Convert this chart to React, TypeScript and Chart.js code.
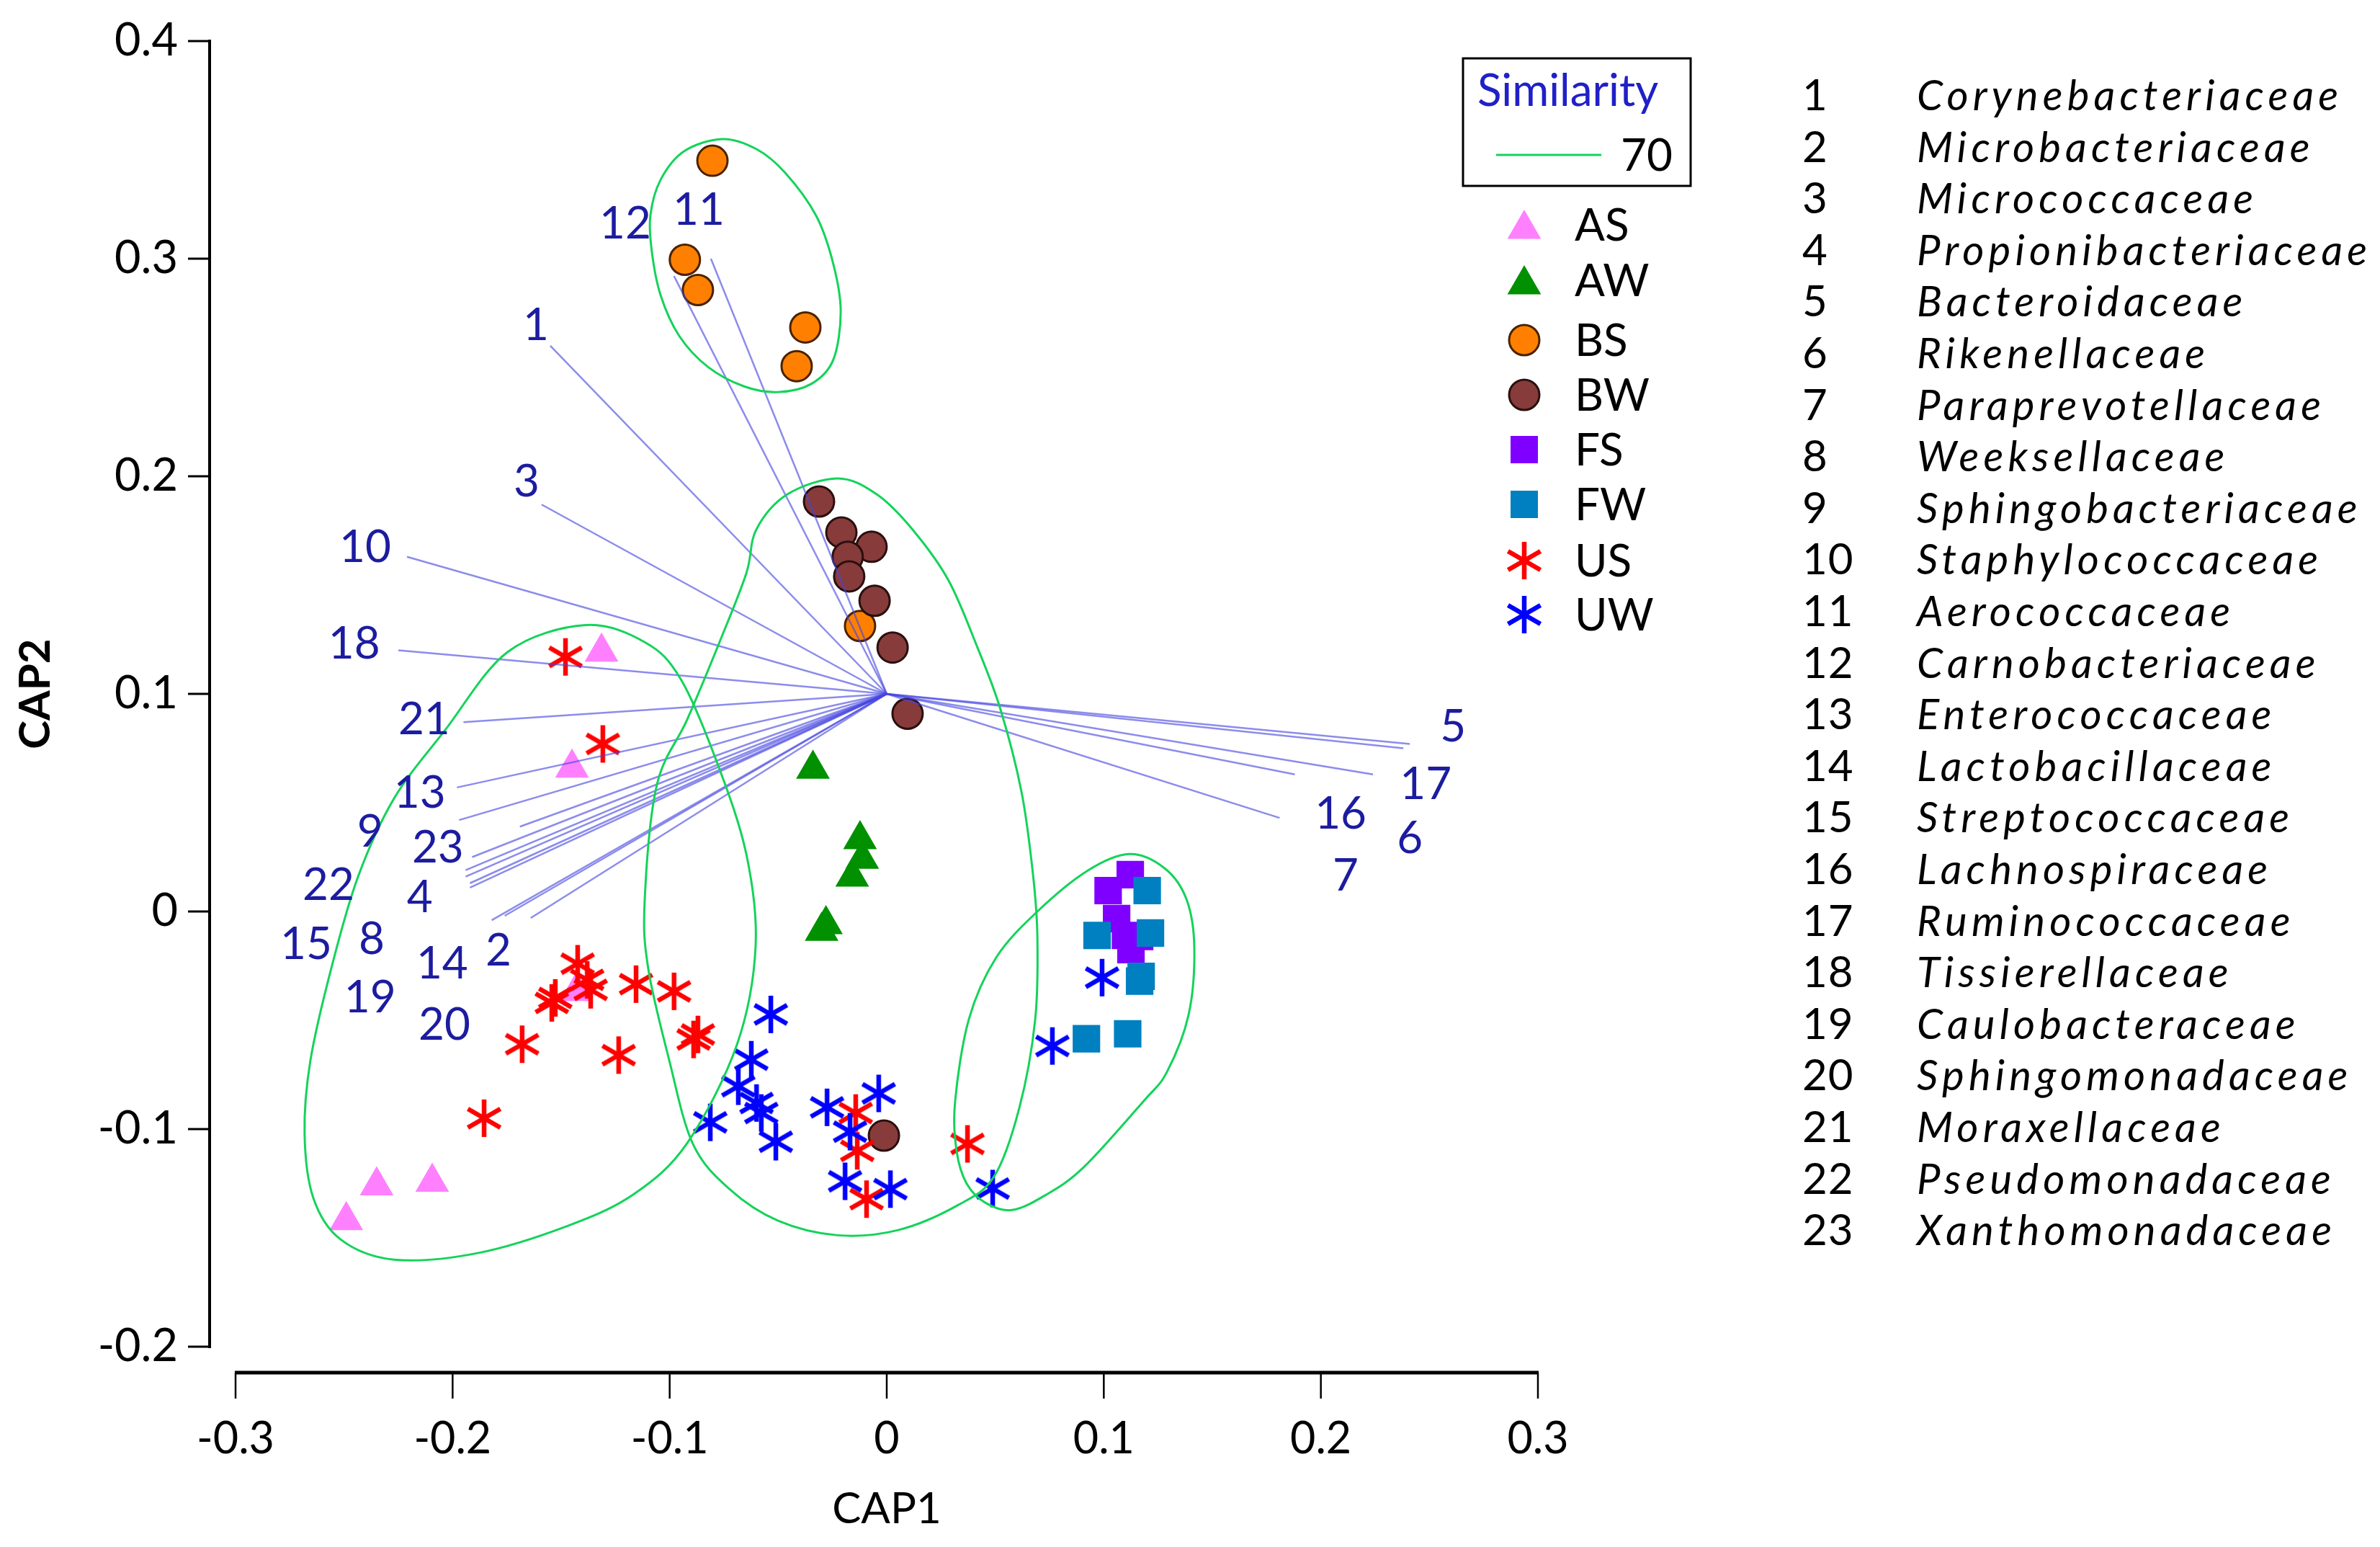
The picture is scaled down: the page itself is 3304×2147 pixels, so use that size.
import React, { useEffect, useRef } from 'react';
import { Chart, registerables } from 'chart.js';

Chart.register(...registerables);

// ---------------- axis ticks ----------------
const xTickValues = [-0.3, -0.2, -0.1, 0, 0.1, 0.2, 0.3];
const xTickLabels = ['-0.3', '-0.2', '-0.1', '0', '0.1', '0.2', '0.3'];
const yTickValues = [-0.2, -0.1, 0, 0.1, 0.2, 0.3, 0.4];
const yTickLabels = ['-0.2', '-0.1', '0', '0.1', '0.2', '0.3', '0.4'];

// ---------------- sample groups (CAP1, CAP2) ----------------
const groupNames = ['AS', 'AW', 'BS', 'BW', 'FS', 'FW', 'US', 'UW'];

const asX = [-0.1314, -0.145, -0.143, -0.2094, -0.235, -0.249];
const asY = [0.1193, 0.066, -0.0367, -0.1243, -0.126, -0.142];

const awX = [-0.034, -0.0123, -0.0113, -0.0159, -0.028, -0.030];
const awY = [0.0655, 0.0331, 0.0241, 0.0159, -0.006, -0.009];

const bsX = [-0.0803, -0.093, -0.087, -0.0375, -0.0415, -0.0123];
const bsY = [0.345, 0.2995, 0.2856, 0.2684, 0.2506, 0.1312];

const bwX = [-0.0312, -0.0209, -0.007, -0.018, -0.0173, -0.0056, 0.0027, 0.0096, -0.0013];
const bwY = [0.1884, 0.1742, 0.1676, 0.163, 0.154, 0.1428, 0.1213, 0.0909, -0.103];

const fsX = [0.1122, 0.102, 0.1059, 0.110, 0.1125, 0.1165];
const fsY = [0.0169, 0.0096, -0.0033, -0.011, -0.0175, -0.0115];

const fwX = [0.12, 0.1215, 0.0969, 0.1172, 0.1165, 0.092, 0.111];
const fwY = [0.0096, -0.0099, -0.011, -0.0298, -0.032, -0.0585, -0.0562];

const usX = [-0.148, -0.1308, -0.1424, -0.138, -0.1364, -0.1527, -0.1543, -0.1155, -0.098, -0.087, -0.089, -0.168, -0.1235, -0.1855, -0.0143, -0.0136, -0.0093, 0.0372];
const usY = [0.117, 0.077, -0.024, -0.0314, -0.036, -0.0397, -0.042, -0.0334, -0.0367, -0.0565, -0.0588, -0.061, -0.066, -0.095, -0.0926, -0.110, -0.1322, -0.1068];

const uwX = [-0.0534, -0.0624, -0.0684, -0.060, -0.0578, -0.0511, -0.0813, -0.0275, -0.0037, -0.0169, -0.0192, 0.0017, 0.0992, 0.0763, 0.0488];
const uwY = [-0.0473, -0.0681, -0.0803, -0.088, -0.0926, -0.1058, -0.0969, -0.090, -0.0836, -0.1012, -0.124, -0.1276, -0.0304, -0.0618, -0.1273];

// ---------------- family vectors ----------------
const familyNames = [
  'Corynebacteriaceae', 'Microbacteriaceae', 'Micrococcaceae', 'Propionibacteriaceae',
  'Bacteroidaceae', 'Rikenellaceae', 'Paraprevotellaceae', 'Weeksellaceae',
  'Sphingobacteriaceae', 'Staphylococcaceae', 'Aerococcaceae', 'Carnobacteriaceae',
  'Enterococcaceae', 'Lactobacillaceae', 'Streptococcaceae', 'Lachnospiraceae',
  'Ruminococcaceae', 'Tissierellaceae', 'Caulobacteraceae', 'Sphingomonadaceae',
  'Moraxellaceae', 'Pseudomonadaceae', 'Xanthomonadaceae',
];
const vectorOriginX = 0;
const vectorOriginY = 0.1;
const vectorTipX = [-0.155, -0.164, -0.159, -0.192, 0.241, 0.238, 0.181, -0.192, -0.197, -0.221, -0.081, -0.098, -0.198, -0.182, -0.194, 0.188, 0.224, -0.225, -0.169, -0.176, -0.195, -0.194, -0.191];
const vectorTipY = [0.260, -0.003, 0.187, 0.013, 0.077, 0.075, 0.043, 0.011, 0.042, 0.163, 0.300, 0.292, 0.057, -0.004, 0.016, 0.063, 0.063, 0.120, 0.039, -0.002, 0.087, 0.019, 0.025];
const vectorLabelX = [-0.1616, -0.1789, -0.1659, -0.2151, 0.2609, 0.241, 0.2114, -0.2373, -0.238, -0.2403, -0.0866, -0.1205, -0.2151, -0.2048, -0.2675, 0.2091, 0.2483, -0.2453, -0.238, -0.2038, -0.2131, -0.2572, -0.2068];
const vectorLabelY = [0.270, -0.0175, 0.198, 0.0069, 0.0853, 0.034, 0.0169, -0.0122, 0.037, 0.168, 0.323, 0.3164, 0.0549, -0.0235, -0.0145, 0.0453, 0.0588, 0.1236, -0.039, -0.0516, 0.0886, 0.0126, 0.0298];

// ---------------- similarity 70 contours ----------------
const contourTopX = [-0.0757, -0.0933, -0.1042, -0.1089, -0.1082, -0.1042, -0.0956, -0.0823, -0.0657, -0.0501, -0.0345, -0.0246, -0.0212, -0.0246, -0.0325, -0.0468, -0.0601];
const contourTopY = [0.3550, 0.3494, 0.3362, 0.3197, 0.3031, 0.2833, 0.2645, 0.2502, 0.2413, 0.2387, 0.2426, 0.2536, 0.2757, 0.2975, 0.3197, 0.3395, 0.3504];

const contourMidX = [-0.0226, -0.0046, 0.0119, 0.0285, 0.0418, 0.0524, 0.0621, 0.0674, 0.0694, 0.0684, 0.0611, 0.0495, 0.0329, 0.0053, -0.0226, -0.0501, -0.0724, -0.0893, -0.1002, -0.1099, -0.1115, -0.1059, -0.0919, -0.0767, -0.0647, -0.0601, -0.0458];
const contourMidY = [0.1990, 0.1917, 0.1755, 0.1521, 0.1213, 0.0929, 0.0549, 0.0169, -0.0116, -0.0496, -0.0902, -0.1217, -0.1349, -0.1464, -0.1488, -0.1421, -0.1276, -0.1068, -0.0684, -0.0261, 0.0053, 0.0582, 0.0883, 0.1246, 0.1554, 0.1755, 0.1917];

const contourLeftX = [-0.1387, -0.1112, -0.0949, -0.0783, -0.0647, -0.0604, -0.0690, -0.0919, -0.1165, -0.1470, -0.1885, -0.2270, -0.2516, -0.2642, -0.2682, -0.2655, -0.2559, -0.2436, -0.2270, -0.2035, -0.1746];
const contourLeftY = [0.1316, 0.1236, 0.1068, 0.0688, 0.0264, -0.0159, -0.0612, -0.1064, -0.1299, -0.1445, -0.1570, -0.1600, -0.1507, -0.1316, -0.1021, -0.0684, -0.0261, 0.0159, 0.0519, 0.0833, 0.1193];

const contourRightX = [0.1118, 0.1281, 0.1381, 0.1417, 0.1391, 0.1291, 0.1182, 0.0906, 0.0727, 0.0577, 0.0455, 0.0368, 0.0322, 0.0315, 0.0378, 0.0504, 0.0694, 0.0926];
const contourRightY = [0.0264, 0.0198, 0.0056, -0.0165, -0.0473, -0.0737, -0.0873, -0.1177, -0.1306, -0.1372, -0.1339, -0.1250, -0.1101, -0.0873, -0.0496, -0.0212, 0.0000, 0.0188];

const similarityLevel = '70';

// ---------------- styles ----------------
const FONT = 'Lato, "Open Sans", sans-serif';
const CONTOUR_COLOR = '#14d35a';
const VECTOR_COLOR = 'rgba(70, 70, 225, 0.62)';
const LABEL_COLOR = '#1c1ca0';
const groupColors = ['#ff80ff', '#009000', '#ff8000', '#873b3b', '#8000ff', '#0080c0', '#ff0000', '#0000ff'];
const groupShapes = ['triangle', 'triangle', 'circle', 'circle', 'rect', 'rect', 'asterisk', 'asterisk'];

function makeAsterisk(color: string): HTMLCanvasElement {
  const c = document.createElement('canvas');
  c.width = 60;
  c.height = 60;
  const g = c.getContext('2d')!;
  g.strokeStyle = color;
  g.lineWidth = 6.5;
  const arm = 26;
  [90, 30, 150].forEach((deg) => {
    const r = (deg * Math.PI) / 180;
    g.beginPath();
    g.moveTo(30 - Math.cos(r) * arm, 30 + Math.sin(r) * arm);
    g.lineTo(30 + Math.cos(r) * arm, 30 - Math.sin(r) * arm);
    g.stroke();
  });
  return c;
}

function drawClosedSpline(ctx: CanvasRenderingContext2D, pts: number[][]) {
  const n = pts.length;
  ctx.beginPath();
  ctx.moveTo(pts[0][0], pts[0][1]);
  for (let i = 0; i < n; i++) {
    const p0 = pts[(i - 1 + n) % n];
    const p1 = pts[i];
    const p2 = pts[(i + 1) % n];
    const p3 = pts[(i + 2) % n];
    ctx.bezierCurveTo(
      p1[0] + (p2[0] - p0[0]) / 6, p1[1] + (p2[1] - p0[1]) / 6,
      p2[0] - (p3[0] - p1[0]) / 6, p2[1] - (p3[1] - p1[1]) / 6,
      p2[0], p2[1],
    );
  }
  ctx.closePath();
  ctx.stroke();
}

function drawMarker(ctx: CanvasRenderingContext2D, shape: string, color: string, cx: number, cy: number, img?: HTMLCanvasElement) {
  ctx.save();
  ctx.fillStyle = color;
  if (shape === 'triangle') {
    const r = 27;
    ctx.beginPath();
    ctx.moveTo(cx, cy - r);
    ctx.lineTo(cx + r * Math.sin((2 * Math.PI) / 3), cy + r / 2);
    ctx.lineTo(cx - r * Math.sin((2 * Math.PI) / 3), cy + r / 2);
    ctx.closePath();
    ctx.fill();
  } else if (shape === 'circle') {
    ctx.beginPath();
    ctx.arc(cx, cy, 21, 0, Math.PI * 2);
    ctx.fill();
    ctx.lineWidth = 3;
    ctx.strokeStyle = color === '#ff8000' ? '#4a2200' : '#2a0f0f';
    ctx.stroke();
  } else if (shape === 'rect') {
    ctx.fillRect(cx - 19, cy - 19, 38, 38);
  } else if (img) {
    ctx.drawImage(img, cx - img.width / 2, cy - img.height / 2);
  }
  ctx.restore();
}

export default function App() {
  const ref = useRef<HTMLCanvasElement>(null);

  useEffect(() => {
    document.body.style.margin = '0';
    let chart: Chart | null = null;
    let cancelled = false;

    const build = () => {
      if (cancelled || !ref.current) return;
      const usStar = makeAsterisk('#ff0000');
      const uwStar = makeAsterisk('#0000ff');
      const stars: Record<string, HTMLCanvasElement> = { US: usStar, UW: uwStar };

      const pts = (xs: number[], ys: number[]) => xs.map((v, i) => ({ x: v, y: ys[i] }));
      const groupData = [pts(asX, asY), pts(awX, awY), pts(bsX, bsY), pts(bwX, bwY), pts(fsX, fsY), pts(fwX, fwY), pts(usX, usY), pts(uwX, uwY)];

      const groupDatasets = groupNames.map((name, gi) => {
        const shape = groupShapes[gi];
        const isCircle = shape === 'circle';
        return {
          label: name,
          data: groupData[gi],
          showLine: false,
          pointStyle: shape === 'asterisk' ? stars[name] : shape,
          pointRadius: shape === 'circle' ? 21 : 27,
          pointBackgroundColor: groupColors[gi],
          pointBorderColor: isCircle ? (name === 'BS' ? '#4a2200' : '#2a0f0f') : groupColors[gi],
          pointBorderWidth: isCircle ? 3 : 0,
          order: 8 - gi,
        };
      });

      const vectorDatasets = familyNames.map((fam, i) => ({
        label: fam,
        data: [{ x: vectorOriginX, y: vectorOriginY }, { x: vectorTipX[i], y: vectorTipY[i] }],
        showLine: true,
        borderColor: VECTOR_COLOR,
        borderWidth: 2.5,
        pointRadius: 0,
        order: 0,
      }));

      const overlay = {
        id: 'capOverlay',
        afterDatasetsDraw(c: any) {
          const { ctx, scales } = c;
          const x = scales.x;
          const y = scales.y;
          ctx.save();
          // similarity contours
          ctx.strokeStyle = CONTOUR_COLOR;
          ctx.lineWidth = 3;
          [
            [contourTopX, contourTopY],
            [contourMidX, contourMidY],
            [contourLeftX, contourLeftY],
            [contourRightX, contourRightY],
          ].forEach(([cx, cy]) => {
            drawClosedSpline(ctx, cx.map((v, i) => [x.getPixelForValue(v), y.getPixelForValue(cy[i])]));
          });
          // vector labels
          ctx.fillStyle = LABEL_COLOR;
          ctx.font = `62px ${FONT}`;
          ctx.textAlign = 'center';
          ctx.textBaseline = 'alphabetic';
          vectorLabelX.forEach((lx, i) => {
            ctx.fillText(String(i + 1), x.getPixelForValue(lx), y.getPixelForValue(vectorLabelY[i]) + 22);
          });
          ctx.restore();
        },
        afterDraw(c: any) {
          const { ctx, chartArea, scales } = c;
          const x = scales.x;
          const y = scales.y;
          ctx.save();
          ctx.strokeStyle = '#000';
          // y axis (detached)
          const axX = chartArea.left - 36;
          const yTop = y.getPixelForValue(yTickValues[yTickValues.length - 1]);
          const yBot = y.getPixelForValue(yTickValues[0]);
          ctx.lineWidth = 4;
          ctx.beginPath();
          ctx.moveTo(axX, yTop - 2);
          ctx.lineTo(axX, yBot + 2);
          ctx.stroke();
          ctx.lineWidth = 3;
          yTickValues.forEach((v) => {
            const py = y.getPixelForValue(v);
            ctx.beginPath();
            ctx.moveTo(axX - 30, py);
            ctx.lineTo(axX, py);
            ctx.stroke();
          });
          // x axis (detached)
          const axY = chartArea.bottom + 36;
          const xL = x.getPixelForValue(xTickValues[0]);
          const xR = x.getPixelForValue(xTickValues[xTickValues.length - 1]);
          ctx.lineWidth = 5;
          ctx.beginPath();
          ctx.moveTo(xL - 1, axY);
          ctx.lineTo(xR + 1, axY);
          ctx.stroke();
          ctx.lineWidth = 2.5;
          xTickValues.forEach((v) => {
            const px = x.getPixelForValue(v);
            ctx.beginPath();
            ctx.moveTo(px, axY);
            ctx.lineTo(px, axY + 36);
            ctx.stroke();
          });

          // similarity legend box
          ctx.lineWidth = 3;
          ctx.strokeRect(2031, 81, 316, 177);
          ctx.font = `62px ${FONT}`;
          ctx.textAlign = 'left';
          ctx.textBaseline = 'alphabetic';
          ctx.fillStyle = '#2020c8';
          ctx.fillText('Similarity', 2051, 147);
          ctx.strokeStyle = CONTOUR_COLOR;
          ctx.lineWidth = 3;
          ctx.beginPath();
          ctx.moveTo(2077, 215);
          ctx.lineTo(2223, 215);
          ctx.stroke();
          ctx.fillStyle = '#000';
          ctx.fillText(similarityLevel, 2250, 237);

          // group legend
          const legendY = [312, 389, 472, 548, 624, 700, 778, 853];
          groupNames.forEach((name, gi) => {
            const shape = groupShapes[gi];
            const yc = legendY[gi];
            drawMarker(ctx, shape, groupColors[gi], 2116, shape === 'triangle' ? yc + 6 : yc, stars[name]);
            ctx.fillStyle = '#000';
            ctx.font = `62px ${FONT}`;
            ctx.fillText(name, 2186, yc + 22);
          });

          // family list
          ctx.font = `italic 58px ${FONT}`;
          const w = ctx.measureText('Propionibacteriaceae').width;
          const ls = Math.max(0, (625 - w) / 19);
          familyNames.forEach((fam, i) => {
            const yc = 132 + i * 71.6;
            ctx.fillStyle = '#000';
            ctx.font = `60px ${FONT}`;
            (ctx as any).letterSpacing = '1px';
            ctx.fillText(String(i + 1), 2502, yc + 21);
            ctx.font = `italic 58px ${FONT}`;
            (ctx as any).letterSpacing = `${ls.toFixed(2)}px`;
            ctx.fillText(fam, 2661, yc + 21);
          });
          (ctx as any).letterSpacing = '0px';
          ctx.restore();
        },
      };

      chart = new Chart(ref.current, {
        type: 'scatter',
        data: { datasets: [...groupDatasets, ...vectorDatasets] as any },
        options: {
          responsive: false,
          devicePixelRatio: 1,
          animation: false,
          events: [],
          layout: { padding: { left: 0, top: 57, right: 1169, bottom: 0 } },
          plugins: { legend: { display: false }, tooltip: { enabled: false } },
          scales: {
            x: {
              type: 'linear',
              min: xTickValues[0],
              max: xTickValues[xTickValues.length - 1],
              afterBuildTicks: (s: any) => { s.ticks = xTickValues.map((v) => ({ value: v })); },
              afterFit: (s: any) => { s.height = 278; s.paddingLeft = 0; s.paddingRight = 0; },
              grid: { display: false, drawTicks: false },
              border: { display: false },
              ticks: {
                padding: 92,
                color: '#000',
                font: { family: FONT, size: 61 },
                maxRotation: 0,
                autoSkip: false,
                callback: (_v: any, i: number) => xTickLabels[i],
              },
              title: { display: true, text: 'CAP1', color: '#000', font: { family: FONT, size: 60 }, padding: { top: 0, bottom: 16 } },
            },
            y: {
              type: 'linear',
              min: yTickValues[0],
              max: yTickValues[yTickValues.length - 1],
              afterBuildTicks: (s: any) => { s.ticks = yTickValues.map((v) => ({ value: v })); },
              afterFit: (s: any) => { s.width = 327; s.paddingTop = 0; s.paddingBottom = 0; },
              grid: { display: false, drawTicks: false },
              border: { display: false },
              ticks: {
                padding: 80,
                color: '#000',
                font: { family: FONT, size: 63 },
                autoSkip: false,
                callback: (_v: any, i: number) => yTickLabels[i],
              },
              title: { display: true, text: 'CAP2', color: '#000', font: { family: FONT, size: 60, weight: 'bold' }, padding: { top: 14, bottom: 0 } },
            },
          },
        },
        plugins: [overlay],
      } as any);
    };

    Promise.all([
      document.fonts.load(`58px Lato`),
      document.fonts.load(`bold 58px Lato`),
      document.fonts.load(`italic 58px Lato`),
    ]).then(build, build);

    return () => {
      cancelled = true;
      if (chart) chart.destroy();
    };
  }, []);

  return <canvas ref={ref} width={3304} height={2147} style={{ display: 'block', width: 3304, height: 2147 }} />;
}
